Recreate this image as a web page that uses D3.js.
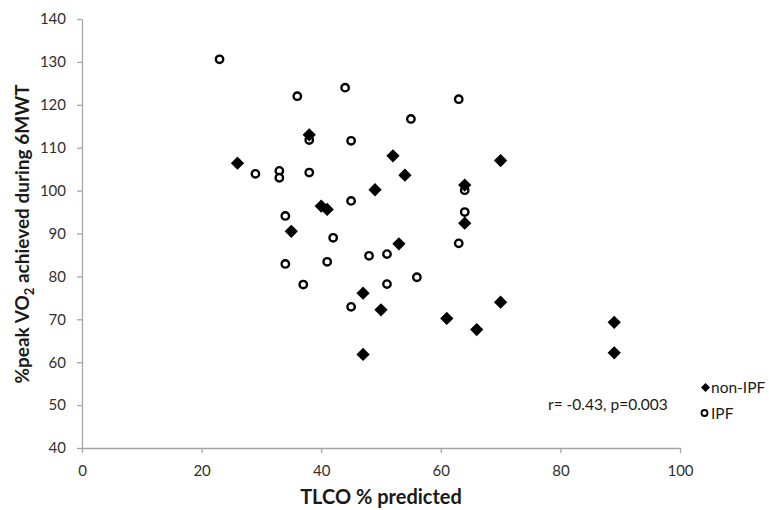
<!DOCTYPE html>
<html>
<head>
<meta charset="utf-8">
<script src="https://cdn.jsdelivr.net/npm/d3@7"></script>
<style>
  body { margin: 0; background: #fff; }
  text { font-family: Lato, "Open Sans", sans-serif; }
</style>
</head>
<body>
<svg id="chart" width="769" height="510"></svg>
<script>
// TLCO % predicted vs %peak VO2
const nonIpfX = [26, 38, 52, 49, 40, 41, 35, 47, 50, 47, 54, 70, 64, 64, 53, 61, 66, 70, 89, 89];
const nonIpfY = [106.4, 113, 108.1, 100.2, 96.4, 95.6, 90.5, 76.1, 72.2, 61.8, 103.6, 107, 101.3, 92.4, 87.6, 70.2, 67.6, 74, 69.3, 62.2];
const ipfX = [23, 36, 44, 38, 45, 29, 33, 33, 38, 45, 34, 42, 34, 37, 41, 48, 51, 51, 45, 63, 55, 64, 64, 63, 56];
const ipfY = [130.6, 122, 124, 111.8, 111.6, 103.9, 104.6, 103, 104.2, 97.6, 94.1, 89, 82.9, 78.1, 83.4, 84.8, 85.2, 78.2, 72.9, 121.3, 116.7, 100.1, 95, 87.7, 79.8];
const xTicks = [0, 20, 40, 60, 80, 100];
const yTicks = [40, 50, 60, 70, 80, 90, 100, 110, 120, 130, 140];
const seriesNames = ['non-IPF', 'IPF'];
const note = 'r= -0.43, p=0.003';

let svg = d3.select('#chart');

let x = d3.scaleLinear().domain([0, 100]).range([82, 680]);
let y = d3.scaleLinear().domain([40, 140]).range([448, 19]);

// axes
let xAxis = svg.append('g')
  .attr('transform', 'translate(0,448)')
  .call(d3.axisBottom(x).tickValues(xTicks).tickSize(5).tickSizeOuter(0).tickPadding(12));
let yAxis = svg.append('g')
  .attr('transform', 'translate(82,0)')
  .call(d3.axisLeft(y).tickValues(yTicks).tickSize(5).tickSizeOuter(0).tickPadding(11));

[xAxis, yAxis].forEach(a => {
  a.select('.domain').attr('stroke', '#a6a6a6').attr('stroke-width', 1.3);
  a.selectAll('.tick line').attr('stroke', '#a6a6a6').attr('stroke-width', 1.3);
  a.selectAll('.tick text').attr('fill', '#303030').style('font-size', '15px')
    .style('font-family', 'Lato, sans-serif');
});

// axis titles
svg.append('text')
  .attr('x', 381).attr('y', 504)
  .attr('text-anchor', 'middle')
  .style('font-size', '20px').style('font-weight', 'bold').attr('fill', '#1a1a1a')
  .text('TLCO % predicted');

let yt = svg.append('text')
  .attr('transform', 'translate(29,234) rotate(-90)')
  .attr('text-anchor', 'middle')
  .style('font-size', '19px').style('font-weight', 'bold').attr('fill', '#1a1a1a');
yt.append('tspan').text('%peak VO');
yt.append('tspan').attr('dy', 5).style('font-size', '13px').text('2');
yt.append('tspan').attr('dy', -5).text(' achieved during 6MWT');

// points
let ipf = ipfX.map((v, i) => ({x: v, y: ipfY[i]}));
let nonIpf = nonIpfX.map((v, i) => ({x: v, y: nonIpfY[i]}));

svg.append('g').selectAll('circle')
  .data(ipf)
  .enter()
    .append('circle')
    .attr('cx', d => x(d.x))
    .attr('cy', d => y(d.y))
    .attr('r', 3.7)
    .attr('fill', '#fff')
    .attr('stroke', '#000')
    .attr('stroke-width', 2.4);

let diamond = d3.symbol().type(d3.symbolSquare).size(88);
svg.append('g').selectAll('path')
  .data(nonIpf)
  .enter()
    .append('path')
    .attr('d', diamond)
    .attr('transform', d => `translate(${x(d.x)},${y(d.y)}) rotate(45)`)
    .attr('fill', '#000');

// correlation note
svg.append('text')
  .attr('x', 548).attr('y', 410)
  .style('font-size', '15.5px').attr('fill', '#1a1a1a')
  .text(note);

// legend
let leg = svg.append('g');
leg.append('path')
  .attr('d', d3.symbol().type(d3.symbolSquare).size(40))
  .attr('transform', 'translate(705.5,387.5) rotate(45)')
  .attr('fill', '#000');
leg.append('circle')
  .attr('cx', 704.5).attr('cy', 413).attr('r', 3)
  .attr('fill', '#fff').attr('stroke', '#000').attr('stroke-width', 1.8);
leg.selectAll('text')
  .data(seriesNames)
  .enter()
    .append('text')
    .attr('x', 711)
    .attr('y', (d, i) => 393 + i * 26)
    .style('font-size', '15.5px').attr('fill', '#1a1a1a')
    .text(d => d);
</script>
</body>
</html>
